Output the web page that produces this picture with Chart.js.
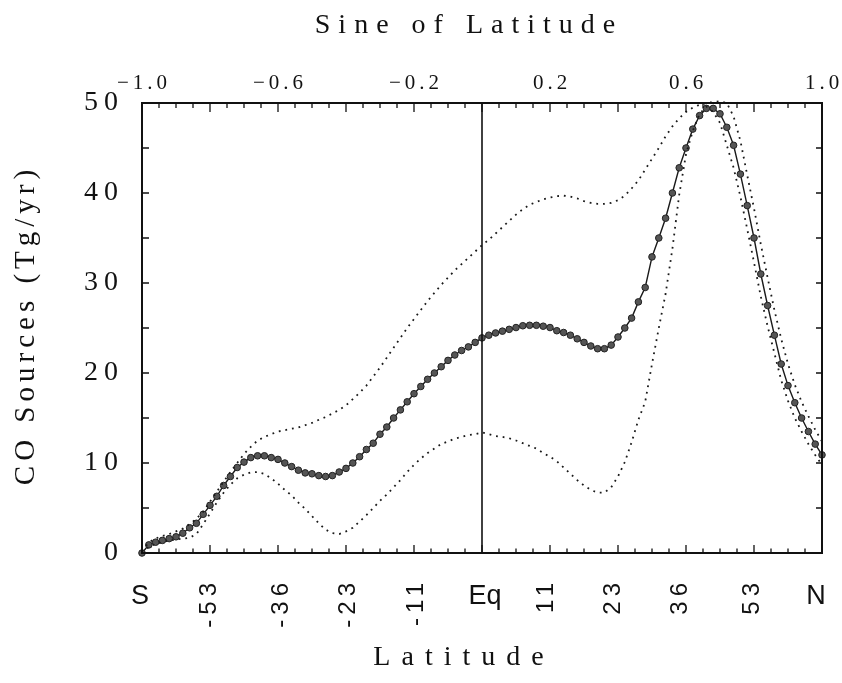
<!DOCTYPE html>
<html>
<head>
<meta charset="utf-8">
<title>CO Sources by latitude</title>
<script src="https://cdn.jsdelivr.net/npm/chart.js@4.4.1/dist/chart.umd.min.js"></script>
<style>
  html, body { margin: 0; padding: 0; background: #fff; }
  #wrap { width: 842px; height: 683px; position: relative; }
</style>
</head>
<body>
<div id="wrap"><canvas id="coChart"></canvas></div>
<script>
// x positions: sine of latitude, one sample every 0.02
var sineLat = [
  -1.00, -0.98, -0.96, -0.94, -0.92, -0.90, -0.88, -0.86, -0.84, -0.82,
  -0.80, -0.78, -0.76, -0.74, -0.72, -0.70, -0.68, -0.66, -0.64, -0.62,
  -0.60, -0.58, -0.56, -0.54, -0.52, -0.50, -0.48, -0.46, -0.44, -0.42,
  -0.40, -0.38, -0.36, -0.34, -0.32, -0.30, -0.28, -0.26, -0.24, -0.22,
  -0.20, -0.18, -0.16, -0.14, -0.12, -0.10, -0.08, -0.06, -0.04, -0.02,
   0.00,  0.02,  0.04,  0.06,  0.08,  0.10,  0.12,  0.14,  0.16,  0.18,
   0.20,  0.22,  0.24,  0.26,  0.28,  0.30,  0.32,  0.34,  0.36,  0.38,
   0.40,  0.42,  0.44,  0.46,  0.48,  0.50,  0.52,  0.54,  0.56,  0.58,
   0.60,  0.62,  0.64,  0.66,  0.68,  0.70,  0.72,  0.74,  0.76,  0.78,
   0.80,  0.82,  0.84,  0.86,  0.88,  0.90,  0.92,  0.94,  0.96,  0.98,
   1.00
];

// CO sources (Tg/yr), best estimate
var coMean = [
  0, 0.9, 1.2, 1.4, 1.6, 1.8, 2.2, 2.8, 3.3, 4.3,
  5.3, 6.3, 7.5, 8.5, 9.5, 10.1, 10.6, 10.8, 10.8, 10.6,
  10.4, 10.0, 9.6, 9.2, 8.9, 8.8, 8.6, 8.5, 8.6, 9.0,
  9.4, 10.0, 10.7, 11.5, 12.2, 13.2, 14.0, 15.0, 15.9, 16.8,
  17.7, 18.5, 19.3, 20.0, 20.7, 21.4, 22.0, 22.5, 22.9, 23.4,
  23.9, 24.2, 24.45, 24.65, 24.85, 25.05, 25.25, 25.3, 25.3, 25.2,
  25.05, 24.7, 24.5, 24.2, 23.8, 23.4, 23.0, 22.7, 22.7, 23.1,
  24.0, 25.0, 26.1, 27.9, 29.5, 32.9, 35.0, 37.2, 40.0, 42.8,
  45.0, 47.1, 48.6, 49.4, 49.4, 48.8, 47.3, 45.3, 42.1, 38.6,
  35.0, 31.0, 27.5, 24.2, 21.0, 18.6, 16.7, 15.0, 13.5, 12.1,
  10.9
];

// upper bound (dotted)
var coUpper = [
  0.2, 1.2, 1.6, 1.9, 2.1, 2.4, 2.7, 3.2, 3.8, 4.6,
  5.7, 6.8, 7.9, 9.0, 10.0, 11.0, 11.8, 12.5, 12.9, 13.2,
  13.5, 13.65, 13.8, 13.95, 14.2, 14.45, 14.8, 15.1, 15.5, 15.9,
  16.4, 17.1, 17.8, 18.6, 19.6, 20.6, 21.7, 22.8, 23.9, 25.0,
  26.0, 27.0, 28.0, 28.9, 29.8, 30.6, 31.4, 32.1, 32.8, 33.5,
  34.2, 34.8, 35.5, 36.2, 36.9, 37.6, 38.2, 38.7, 39.0, 39.3,
  39.5, 39.65, 39.7, 39.6, 39.4, 39.1, 38.9, 38.8, 38.8, 38.9,
  39.2, 39.7, 40.5, 41.4, 42.6, 43.8, 45.0, 46.3, 47.4, 48.3,
  49.0, 49.5, 49.8, 50.0, 50.1, 50.2, 50.0, 48.5, 45.8, 42.0,
  38.3, 34.3, 30.6, 27.0, 23.8, 21.0, 18.7, 16.8, 15.2, 13.7,
  12.4
];

// lower bound (dotted)
var coLower = [
  0, 0.7, 1.0, 1.2, 1.4, 1.5, 1.6, 1.7, 2.1, 3.2,
  4.4, 5.6, 6.7, 7.6, 8.3, 8.7, 8.95, 9.0, 8.8, 8.3,
  7.7, 7.0, 6.4, 5.6, 4.9, 4.1, 3.3, 2.6, 2.2, 2.1,
  2.4, 2.8, 3.5, 4.2, 5.0, 5.8, 6.5, 7.3, 8.1, 9.0,
  9.8, 10.5, 11.1, 11.6, 12.1, 12.4, 12.7, 12.9, 13.1, 13.2,
  13.4, 13.2, 13.0, 12.9, 12.75, 12.5, 12.2, 11.9, 11.6, 11.1,
  10.7, 10.2, 9.5, 8.8, 8.1, 7.5, 7.0, 6.7, 6.7, 7.3,
  8.5, 10.1, 12.3, 14.8, 16.8, 21.0, 25.0, 28.8, 33.8, 39.8,
  44.3, 46.9, 48.8, 49.6, 49.0, 47.8, 45.3, 42.8, 39.6, 36.0,
  32.3, 28.5, 25.2, 22.2, 19.2, 16.9, 15.0, 13.5, 12.1, 10.9,
  9.8
];

var topTickValues = [-1.0, -0.6, -0.2, 0.2, 0.6, 1.0];
var topTickLabels = ['\u22121.0', '\u22120.6', '\u22120.2', '0.2', '0.6', '1.0'];
var latDegrees = [-90, -53, -36, -23, -11, 0, 11, 23, 36, 53, 90];
var latLabels = ['S', '-53', '-36', '-23', '-11', 'Eq', '11', '23', '36', '53', 'N'];
var yTickValues = [0, 10, 20, 30, 40, 50];

function toPoints(ys) {
  return sineLat.map(function(s, i){ return { x: s, y: ys[i] }; });
}

// frame, inward ticks, equator line and all axis text
var axesDecor = {
  id: 'axesDecor',
  afterDatasetsDraw: function(chart) {
    var ctx = chart.ctx, a = chart.chartArea;
    var xs = chart.scales.x, ys = chart.scales.y;
    ctx.save();
    ctx.strokeStyle = '#111';

    var x0 = xs.getPixelForValue(0);
    ctx.lineWidth = 1.6;
    ctx.beginPath(); ctx.moveTo(x0, a.top); ctx.lineTo(x0, a.bottom); ctx.stroke();

    ctx.lineWidth = 2;
    ctx.strokeRect(a.left, a.top, a.right - a.left, a.bottom - a.top);

    ctx.lineWidth = 1.3;
    ctx.beginPath();
    for (var k = -20; k <= 20; k++) {
      var px = xs.getPixelForValue(k * 0.05);
      var major = (k % 4 === 0);
      ctx.moveTo(px, a.top); ctx.lineTo(px, a.top + (major ? 9 : 5));
      ctx.moveTo(px, a.bottom); ctx.lineTo(px, a.bottom - (major ? 8 : 4.5));
    }
    for (var v = 5; v < 50; v += 5) {
      var py = ys.getPixelForValue(v);
      ctx.moveTo(a.left, py); ctx.lineTo(a.left + 7, py);
      ctx.moveTo(a.right, py); ctx.lineTo(a.right - 6, py);
    }
    ctx.stroke();
    ctx.restore();
  },
  afterDraw: function(chart) {
    var ctx = chart.ctx, a = chart.chartArea;
    var xs = chart.scales.x, ys = chart.scales.y;
    ctx.save();
    ctx.fillStyle = '#111';

    // top title and sine ticks
    ctx.font = '28px "Liberation Serif", serif';
    ctx.letterSpacing = '8px';
    ctx.textAlign = 'center';
    ctx.textBaseline = 'alphabetic';
    ctx.fillText('Sine of Latitude', 469, 33);

    ctx.font = '21px "Liberation Serif", serif';
    ctx.letterSpacing = '4px';
    topTickValues.forEach(function(t, i){
      ctx.fillText(topTickLabels[i], xs.getPixelForValue(t) + 2, 89);
    });

    // y ticks
    ctx.font = '28px "Liberation Serif", serif';
    ctx.letterSpacing = '6px';
    ctx.textAlign = 'right';
    ctx.textBaseline = 'middle';
    yTickValues.forEach(function(t){
      ctx.fillText(String(t), 124, ys.getPixelForValue(t));
    });

    // y title
    ctx.save();
    ctx.translate(26, 325);
    ctx.rotate(-Math.PI / 2);
    ctx.font = '29px "Liberation Serif", serif';
    ctx.letterSpacing = '5px';
    ctx.textAlign = 'center';
    ctx.fillText('CO Sources (Tg/yr)', 0, 0);
    ctx.restore();

    // latitude labels
    latDegrees.forEach(function(d, i){
      var px = xs.getPixelForValue(Math.sin(d * Math.PI / 180));
      var lab = latLabels[i];
      if (lab === 'S' || lab === 'Eq' || lab === 'N') {
        ctx.font = '27px "Liberation Sans", Arial, sans-serif';
        ctx.letterSpacing = '0px';
        ctx.textAlign = 'center';
        ctx.textBaseline = 'middle';
        var shift = lab === 'N' ? -6 : (lab === 'Eq' ? 3 : -2);
        ctx.fillText(lab, px + shift, 597);
      } else {
        ctx.save();
        ctx.translate(px - 1, 578);
        ctx.rotate(-Math.PI / 2);
        ctx.font = '24px "Liberation Sans", Arial, sans-serif';
        ctx.letterSpacing = '5px';
        ctx.textAlign = 'right';
        ctx.textBaseline = 'middle';
        ctx.fillText(lab, 0, 0);
        ctx.restore();
      }
    });

    // bottom title
    ctx.font = '28px "Liberation Serif", serif';
    ctx.letterSpacing = '11px';
    ctx.textAlign = 'center';
    ctx.textBaseline = 'alphabetic';
    ctx.fillText('Latitude', 464, 665);
    ctx.restore();
  }
};

var ctx = document.getElementById('coChart');
var chart = new Chart(ctx, {
  type: 'line',
  data: {
    datasets: [{
      label: 'upper',
      data: toPoints(coUpper),
      borderColor: '#1a1a1a',
      borderWidth: 1.8,
      borderDash: [1.8, 4.9],
      pointRadius: 0,
      tension: 0,
      fill: false,
      clip: 4
    }, {
      label: 'lower',
      data: toPoints(coLower),
      borderColor: '#1a1a1a',
      borderWidth: 1.8,
      borderDash: [1.8, 4.9],
      pointRadius: 0,
      tension: 0,
      fill: false,
      clip: 4
    }, {
      label: 'CO sources',
      data: toPoints(coMean),
      borderColor: '#1a1a1a',
      borderWidth: 1.4,
      pointRadius: 3.3,
      pointBackgroundColor: '#555',
      pointBorderColor: '#222',
      pointBorderWidth: 1,
      tension: 0,
      fill: false,
      clip: 6
    }]
  },
  options: {
    responsive: true,
    maintainAspectRatio: false,
    animation: false,
    layout: { padding: { left: 142, right: 20, top: 103, bottom: 130 } },
    plugins: { legend: { display: false }, tooltip: { enabled: false } },
    scales: {
      x: { type: 'linear', min: -1, max: 1, display: false },
      y: { type: 'linear', min: 0, max: 50, display: false }
    }
  },
  plugins: [axesDecor]
});
</script>
</body>
</html>
